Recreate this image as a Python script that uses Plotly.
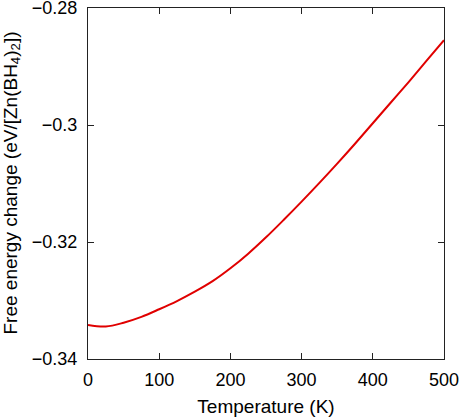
import plotly.graph_objects as go

# Temperature (K) and free energy change
temperature = [0, 25, 50, 75, 100, 125, 150, 175, 200, 225, 250, 275, 300,
               325, 350, 375, 400, 425, 450, 475, 500]
free_energy = [-0.3342, -0.33445, -0.3338, -0.3328, -0.3315, -0.3301, -0.3285,
               -0.3267, -0.3245, -0.3220, -0.3192, -0.3162, -0.3131, -0.3099,
               -0.3066, -0.3032, -0.2997, -0.2962, -0.2927, -0.2891, -0.2855]

x_ticks = [0, 100, 200, 300, 400, 500]
y_ticks = [-0.34, -0.32, -0.3, -0.28]

font = dict(family="Liberation Sans, Arial, sans-serif", size=18, color="#000")

fig = go.Figure(
    data=[
        go.Scatter(
            x=temperature,
            y=free_energy,
            mode="lines",
            line=dict(color="#e00000", width=2, shape="spline"),
            showlegend=False,
        )
    ],
    layout=go.Layout(
        width=463,
        height=419,
        margin=dict(l=88, r=19, t=8, b=60),
        paper_bgcolor="white",
        plot_bgcolor="white",
        font=font,
    ),
)

axis_style = dict(
    showline=True,
    linecolor="#222",
    linewidth=1.3,
    mirror="ticks",
    ticks="inside",
    ticklen=6,
    tickcolor="#222",
    showgrid=False,
    zeroline=False,
    tickfont=font,
    automargin=False,
    ticklabeloverflow="allow",
)

fig.update_xaxes(
    range=[0, 500],
    tickvals=x_ticks,
    title=dict(text="Temperature (K)", font=dict(font, size=19), standoff=10),
    ticklabelstandoff=4,
    **axis_style,
)
fig.update_yaxes(
    range=[-0.34, -0.28],
    tickvals=y_ticks,
    ticklabelstandoff=6,
    **axis_style,
)

# y title as a rotated annotation so it can sit close to the left edge
fig.add_annotation(
    text="Free energy change (eV/[Zn(BH<sub>4</sub>)<sub>2</sub>])",
    xref="paper", yref="paper",
    x=-77 / 356, y=0.5,
    xanchor="center", yanchor="middle",
    textangle=-90,
    showarrow=False,
    font=dict(font, size=19),
)

# page default body margin would shift the figure by 8px
fig.write_html(
    "out.html",
    config={"displayModeBar": False},
    post_script="document.body.style.margin='0';",
)
